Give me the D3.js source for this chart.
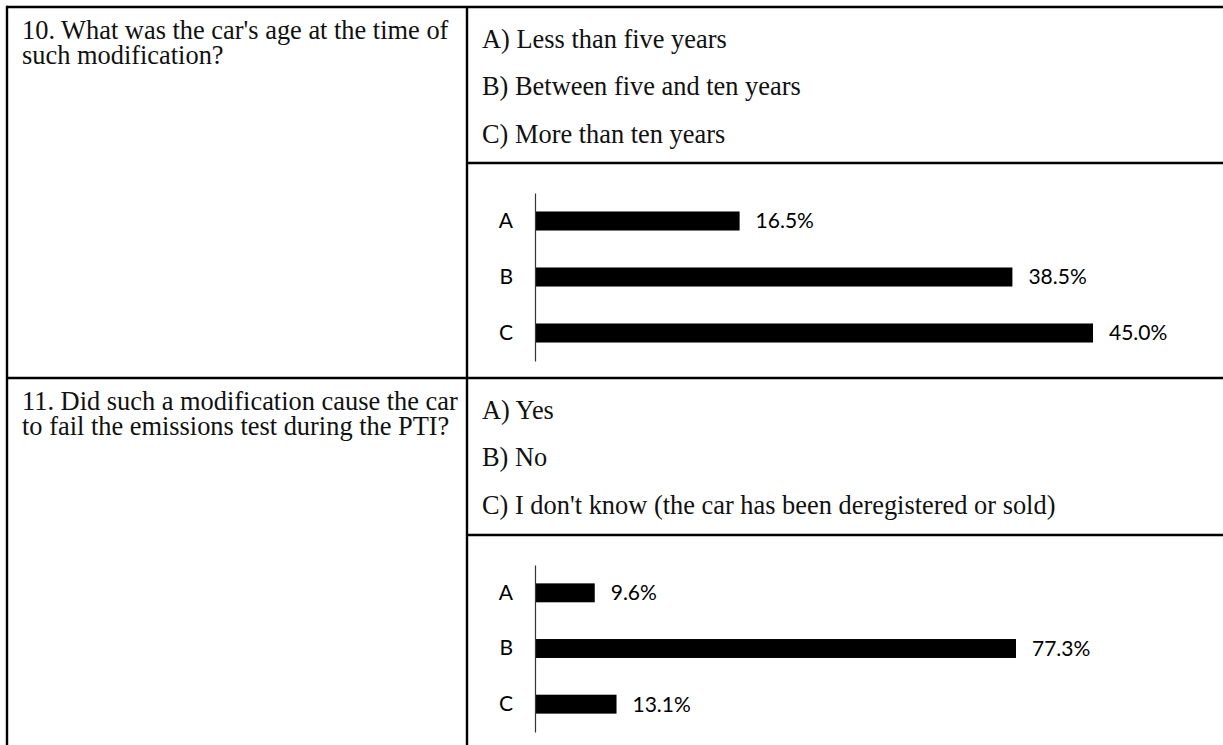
<!DOCTYPE html>
<html>
<head>
<meta charset="utf-8">
<script src="https://cdn.jsdelivr.net/npm/d3@7"></script>
<style>
  body { margin: 0; background: #fff; }
  .q { font-family: "Liberation Serif", "Times New Roman", serif; font-size: 26.4px; fill: #111; }
  .lbl { font-family: Lato, "Open Sans", sans-serif; font-size: 21px; fill: #000; }
  .axis text { font-family: Lato, "Open Sans", sans-serif; font-size: 21px; fill: #000; }
  .axis path { stroke: #333; }
</style>
</head>
<body>
<div id="vis"></div>
<script>
var width = 1223,
    height = 745;

// question 10
var q10Lines = ["10. What was the car's age at the time of", "such modification?"];
var q10Options = ["A) Less than five years", "B) Between five and ten years", "C) More than ten years"];
var q10Cats = ["A", "B", "C"];
var q10Values = [16.5, 38.5, 45.0];

// question 11
var q11Lines = ["11. Did such a modification cause the car", "to fail the emissions test during the PTI?"];
var q11Options = ["A) Yes", "B) No", "C) I don't know (the car has been deregistered or sold)"];
var q11Cats = ["A", "B", "C"];
var q11Values = [9.6, 77.3, 13.1];

var svg = d3.select("#vis").append("svg")
    .attr("width", width)
    .attr("height", height);

// table grid
var gridLeft = 7, gridMid = 467, gridTop = 7;
var rows = [
    { y: gridTop, sep: 163, lines: q10Lines, options: q10Options, cats: q10Cats, values: q10Values,
      axisTop: 193, axisBottom: 361, xEnd: 1093 },
    { y: 378, sep: 535, lines: q11Lines, options: q11Options, cats: q11Cats, values: q11Values,
      axisTop: 565, axisBottom: 732, xEnd: 1016 }
];

var grid = svg.append("g").attr("stroke", "#000").attr("stroke-width", 2.4);
grid.append("line").attr("x1", gridLeft).attr("x2", gridLeft).attr("y1", gridTop - 1.2).attr("y2", height);
grid.append("line").attr("x1", gridMid).attr("x2", gridMid).attr("y1", gridTop).attr("y2", height);
rows.forEach(function(r) {
    grid.append("line").attr("x1", gridLeft).attr("x2", width).attr("y1", r.y).attr("y2", r.y);
    grid.append("line").attr("x1", gridMid).attr("x2", width).attr("y1", r.sep).attr("y2", r.sep);
});

var x0 = 535;

rows.forEach(function(r) {
    var g = svg.append("g");

    g.selectAll("text.qline")
        .data(r.lines)
        .enter().append("text")
        .attr("class", "q")
        .attr("x", 22)
        .attr("y", function(d, i) { return r.y + 32 + i * 24.5; })
        .text(function(d) { return d; });

    g.selectAll("text.opt")
        .data(r.options)
        .enter().append("text")
        .attr("class", "q")
        .attr("x", 482)
        .attr("y", function(d, i) { return r.y + 41 + i * 47.3; })
        .text(function(d) { return d; });

    var x = d3.scaleLinear()
        .domain([0, d3.max(r.values)])
        .range([x0, r.xEnd]);

    var y = d3.scaleBand()
        .domain(r.cats)
        .range([r.axisTop, r.axisBottom])
        .paddingInner(0.66)
        .paddingOuter(0.33);

    var data = r.cats.map(function(c, i) { return { cat: c, value: r.values[i] }; });

    g.selectAll("rect")
        .data(data)
        .enter().append("rect")
        .attr("x", x(0))
        .attr("y", function(d) { return y(d.cat); })
        .attr("width", function(d) { return x(d.value) - x(0); })
        .attr("height", y.bandwidth())
        .attr("fill", "#000");

    g.selectAll("text.lbl")
        .data(data)
        .enter().append("text")
        .attr("class", "lbl")
        .attr("x", function(d) { return x(d.value) + 16; })
        .attr("y", function(d) { return y(d.cat) + y.bandwidth() / 2; })
        .attr("dy", "0.35em")
        .text(function(d) { return d.value.toFixed(1) + "%"; });

    g.append("g")
        .attr("class", "axis")
        .attr("transform", "translate(" + x0 + ",0)")
        .call(d3.axisLeft(y).tickSize(0).tickPadding(22))
        .call(function(a) { a.select(".domain").attr("stroke-width", 1.2); });
});
</script>
</body>
</html>
